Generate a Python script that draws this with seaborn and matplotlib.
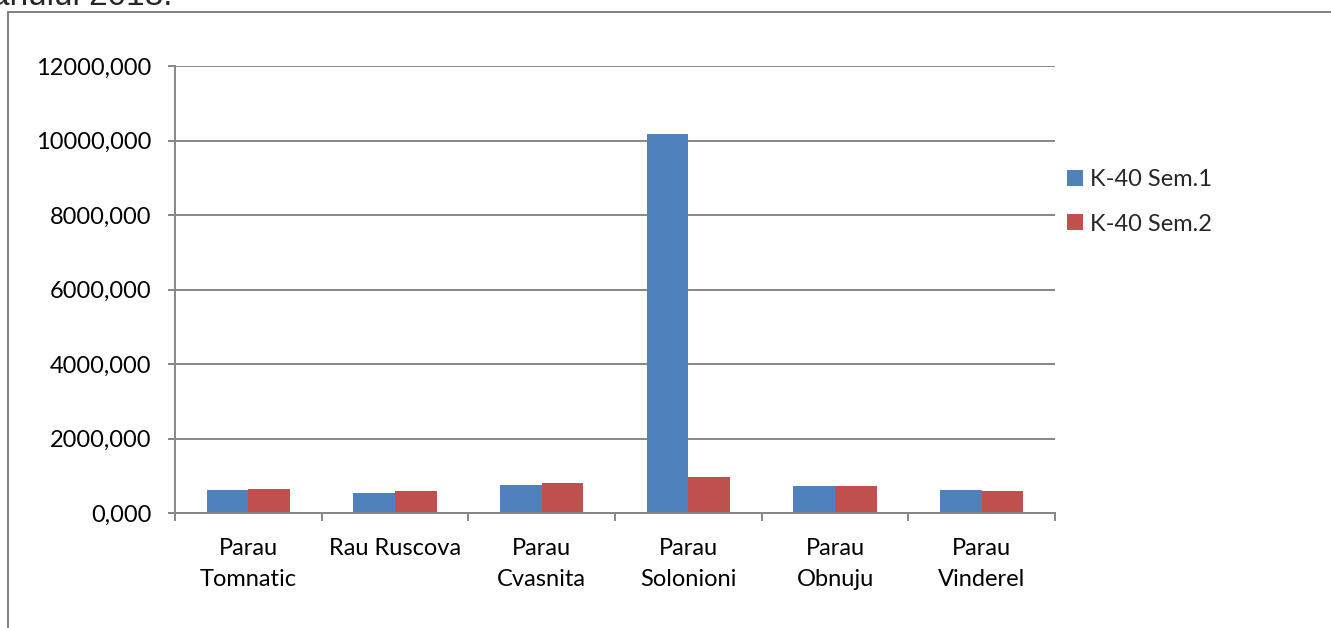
import matplotlib
matplotlib.use("Agg")
import matplotlib.pyplot as plt
import matplotlib.patches as mpatches
from matplotlib.ticker import FuncFormatter, MultipleLocator, FixedLocator
import seaborn as sns
import pandas as pd

# K-40 activity per sampling site, two sampling campaigns
sites = ["Parau\nTomnatic", "Rau Ruscova", "Parau\nCvasnita",
         "Parau\nSolonioni", "Parau\nObnuju", "Parau\nVinderel"]
series_names = ["K-40 Sem.1", "K-40 Sem.2"]
sem1 = [617, 537, 752, 10166, 725, 626]
sem2 = [644, 590, 813, 975, 712, 590]
colors = ["#4F81BD", "#C0504D"]

df = pd.DataFrame({
    "site": sites * 2,
    "series": [series_names[0]] * len(sites) + [series_names[1]] * len(sites),
    "value": sem1 + sem2,
})

sns.set_theme(style="white")
plt.rcParams["font.family"] = ["Lato", "DejaVu Sans"]

W, H = 1331, 628
fig = plt.figure(figsize=(W / 100, H / 100), dpi=100)
ax = fig.add_axes([175 / W, 1 - 513 / H, (1055 - 175) / W, (513 - 66) / H])

sns.barplot(data=df, x="site", y="value", hue="series", order=sites,
            hue_order=series_names, palette=colors, width=0.568,
            saturation=1, linewidth=0, errorbar=None, ax=ax, legend=False)

grid_c = "#868686"
ax.set_ylim(0, 12000)
ax.set_xlim(-0.5, len(sites) - 0.5)
ax.yaxis.set_major_locator(MultipleLocator(2000))
ax.yaxis.set_major_formatter(FuncFormatter(lambda v, p: f"{v:.3f}".replace(".", ",")))
ax.grid(axis="y", color=grid_c, linewidth=1.4)
ax.set_axisbelow(True)
ax.set_xlabel("")
ax.set_ylabel("")

for side in ["top", "right"]:
    ax.spines[side].set_visible(False)
for side in ["left", "bottom"]:
    ax.spines[side].set_color(grid_c)
    ax.spines[side].set_linewidth(1.4)

ax.tick_params(axis="y", which="major", left=True, length=5, width=1.4,
               color=grid_c, labelsize=17, pad=12, labelcolor="black")
ax.tick_params(axis="x", which="major", bottom=False, labelsize=17,
               pad=12, labelcolor="black")
ax.xaxis.set_minor_locator(FixedLocator([i - 0.5 for i in range(len(sites) + 1)]))
ax.tick_params(axis="x", which="minor", bottom=True, length=6, width=1.4,
               color=grid_c)
for lbl in ax.get_xticklabels():
    lbl.set_linespacing(1.6)

handles = [mpatches.Patch(facecolor=c, edgecolor="none", label=n)
           for c, n in zip(colors, series_names)]
fig.legend(handles=handles, loc="upper left",
           bbox_to_anchor=(1058 / W, 1 - 160 / H), frameon=False,
           fontsize=17, handlelength=0.65, handleheight=0.65,
           handletextpad=0.3, labelspacing=0.98, borderaxespad=0)

# chart frame and caption line above it
frame = mpatches.Rectangle((8 / W, -0.1), 1.2, 1 - 12 / H + 0.1,
                           transform=fig.transFigure, fill=False,
                           edgecolor="#808080", linewidth=1.4)
fig.patches.append(frame)
fig.text(-9 / W, 1 - 5 / H, "anului 2018.", fontsize=24,
         family=["Liberation Sans", "DejaVu Sans"], va="baseline", ha="left")

fig.savefig("out.png", dpi=100, facecolor="white")
